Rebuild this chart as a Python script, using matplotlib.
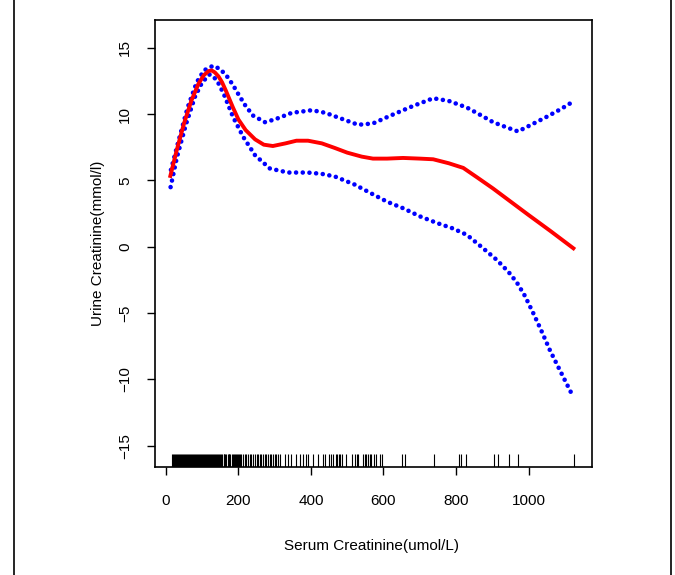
import matplotlib
matplotlib.use("Agg")
import matplotlib.pyplot as plt
from matplotlib.lines import Line2D

plt.rcParams["font.family"] = ["Liberation Sans", "DejaVu Sans"]

# fitted curve (red)
fit_x = [11, 30, 50, 70, 90, 105, 118, 126, 135, 145, 155, 165, 175, 185, 200,
         220, 246, 270, 295, 330, 360, 392, 430, 466, 500, 540, 571, 610, 654,
         700, 737, 780, 820, 860, 902, 1000, 1060, 1128]
fit_y = [5.2, 7.3, 9.3, 11.0, 12.3, 12.95, 13.25, 13.3, 13.15, 12.85, 12.4, 11.8,
         11.15, 10.5, 9.6, 8.8, 8.1, 7.7, 7.6, 7.8, 8.0, 8.0, 7.8, 7.45, 7.1, 6.8,
         6.65, 6.65, 6.7, 6.65, 6.6, 6.3, 5.95, 5.2, 4.4, 2.4, 1.2, -0.2]

# upper confidence band
up_x = [14, 35, 60, 85, 105, 130, 150, 170, 185, 200, 218, 240, 273, 300, 347,
        403, 440, 480, 530, 571, 620, 680, 737, 780, 830, 870, 902, 940, 971,
        1000, 1050, 1090, 1120]
up_y = [5.8, 8.0, 10.5, 12.4, 13.3, 13.65, 13.4, 12.8, 12.2, 11.5, 10.7, 9.9,
        9.4, 9.6, 10.1, 10.3, 10.1, 9.7, 9.2, 9.3, 9.9, 10.6, 11.2, 11.0, 10.5,
        9.9, 9.4, 9.0, 8.7, 9.1, 9.8, 10.4, 10.9]

# lower confidence band
lo_x = [13, 30, 55, 80, 100, 121, 140, 160, 185, 213, 246, 287, 337, 391, 430,
        466, 520, 568, 610, 655, 700, 747, 790, 830, 870, 913, 945, 968, 990,
        1013, 1035, 1059, 1090, 1123]
lo_y = [4.5, 6.7, 9.2, 11.3, 12.4, 13.0, 12.6, 11.5, 9.8, 8.3, 6.9, 5.9, 5.6,
        5.6, 5.5, 5.3, 4.7, 4.0, 3.4, 2.9, 2.3, 1.8, 1.4, 0.9, 0.0, -1.0, -1.9,
        -2.7, -3.7, -5.0, -6.3, -7.8, -9.5, -11.3]

# observed serum creatinine values (rug)
rug_x = [16, 19, 22, 26, 28, 31, 34, 36, 39, 42, 45, 47, 50, 53, 56, 58, 61, 64,
         67, 69, 72, 75, 78, 80, 83, 86, 89, 91, 94, 97, 100, 103, 105, 108, 111,
         114, 117, 119, 122, 125, 128, 131, 133, 136, 139, 142, 145, 147, 150,
         153, 156, 159, 161, 164, 167, 170, 173, 175, 178, 181, 184, 187, 190,
         193, 196, 199, 202, 205, 208, 213, 218, 222, 227, 231, 236, 240, 245,
         250, 254, 259, 263, 268, 272, 277, 281, 286, 290, 295, 300, 304, 309,
         314, 328, 337, 345, 360, 369, 379, 385, 393, 405, 420, 434, 439, 450,
         455, 462, 468, 472, 477, 481, 487, 498, 512, 521, 526, 530, 543, 548,
         553, 558, 562, 566, 574, 579, 590, 595, 650, 659, 740, 808, 815, 828,
         905, 917, 947, 970, 1126]

x_ticks = [0, 200, 400, 600, 800, 1000]
y_ticks = [-15, -10, -5, 0, 5, 10, 15]

W, H = 675, 575
fig = plt.figure(figsize=(W / 100, H / 100), dpi=100)
ax = fig.add_axes([155 / W, 1 - 467 / H, (592 - 155) / W, (467 - 20) / H])

dot_style = dict(color="#0000FF", linewidth=3.3, linestyle=(0, (0.01, 1.45)),
                 dash_capstyle="round")
ax.plot(up_x, up_y, **dot_style)
ax.plot(lo_x, lo_y, **dot_style)
ax.plot(fit_x, fit_y, color="#FF0000", linewidth=2.8, solid_capstyle="butt",
        solid_joinstyle="round")

ax.vlines(rug_x, 0, 0.03, transform=ax.get_xaxis_transform(),
          color="black", linewidth=0.8)

ax.set_xlim(-30, 1175)
ax.set_ylim(-16.6, 17.1)
ax.set_xticks(x_ticks)
ax.set_yticks(y_ticks)
ax.set_yticklabels([str(v).replace("-", "\u2212") for v in y_ticks],
                   rotation=90, va="center")

for s in ax.spines.values():
    s.set_linewidth(1.2)
ax.tick_params(axis="both", direction="out", length=5.5, width=1.0,
               labelsize=11)
ax.tick_params(axis="x", pad=14)
ax.tick_params(axis="y", pad=11)

fig.text(372 / W, 1 - 546 / H, "Serum Creatinine(umol/L)", ha="center",
         va="center", fontsize=11)
fig.text(98 / W, 1 - 243 / H, "Urine Creatinine(mmol/l)", ha="center",
         va="center", rotation=90, fontsize=11)

# outer frame lines at left and right edges
fig.add_artist(Line2D([14 / W, 14 / W], [0, 1], color="black", linewidth=1.2))
fig.add_artist(Line2D([671 / W, 671 / W], [0, 1], color="black", linewidth=1.2))

fig.savefig("out.png", dpi=100)
